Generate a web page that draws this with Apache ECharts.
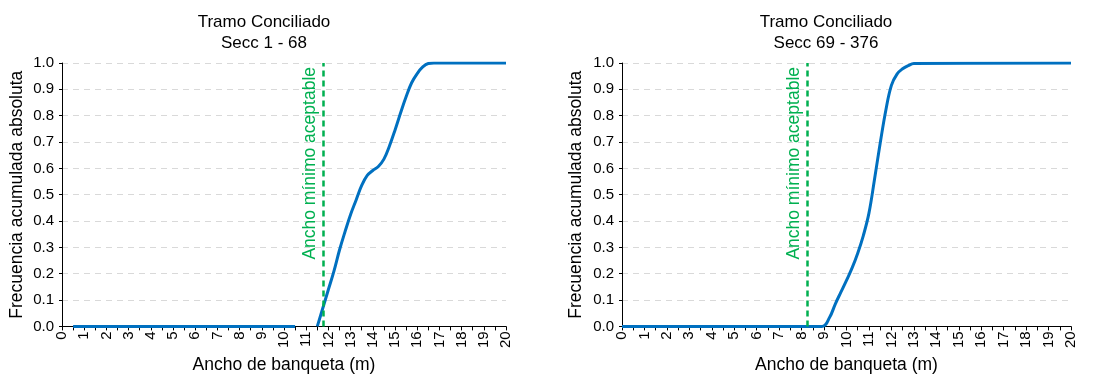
<!DOCTYPE html>
<html>
<head>
<meta charset="utf-8">
<script src="https://cdn.jsdelivr.net/npm/echarts@6/dist/echarts.min.js"></script>
<style>html,body{margin:0;padding:0;background:#fff}#c{width:1094px;height:379px}</style>
</head>
<body>
<div id="c"></div>
<script>
// ---- data ----
const titles = ["Tramo Conciliado\nSecc 1 - 68", "Tramo Conciliado\nSecc 69 - 376"];
const xAxisTitle = "Ancho de banqueta (m)";
const yAxisTitle = "Frecuencia acumulada absoluta";
const limitLabel = "Ancho mínimo aceptable";

const leftWidth = [0.5, 10.5, 11, 11.5, 11.75, 12, 12.25, 12.5, 12.75, 13, 13.25, 13.5, 13.75, 14, 14.25, 14.5, 14.75, 15, 15.25, 15.5, 15.75, 16, 16.25, 16.5, 16.75, 20];
const leftFreq  = [0, 0, null, 0, 0.07, 0.14, 0.21, 0.29, 0.36, 0.425, 0.48, 0.535, 0.573, 0.592, 0.607, 0.635, 0.685, 0.745, 0.81, 0.872, 0.925, 0.96, 0.985, 0.998, 1.0, 1.0];
const leftLimit = 11.75;

const rightWidth = [0, 8.9, 9.25, 9.5, 9.75, 10, 10.25, 10.5, 10.75, 11, 11.25, 11.5, 11.75, 12, 12.25, 12.5, 12.75, 13, 20];
const rightFreq  = [0, 0, 0.035, 0.085, 0.13, 0.175, 0.222, 0.278, 0.345, 0.43, 0.56, 0.695, 0.82, 0.915, 0.958, 0.978, 0.99, 0.998, 1.0];
const rightLimit = 8.25;

// ---- chart ----
const FONT = "'Liberation Sans', Arial, sans-serif";
const BLUE = '#0070C0', GREEN = '#00B050', TXT = '#000';
const pairs = (xs, ys) => xs.map((x, i) => [x, ys[i]]);

function xAx(idx, gap) {
  return {
    type: 'value', gridIndex: idx, min: 0, max: 20, interval: 1,
    name: xAxisTitle, nameLocation: 'middle', nameGap: gap,
    nameTextStyle: { fontFamily: FONT, fontSize: 17.5, color: TXT },
    axisLine: { show: true, onZero: false, lineStyle: { color: '#000', width: 1 } },
    axisTick: { show: true, length: 4, lineStyle: { color: '#000' } },
    minorTick: { show: true, splitNumber: 2, length: 4, lineStyle: { color: '#000' } },
    axisLabel: { rotate: 90, margin: 5, fontFamily: FONT, fontSize: 15, color: TXT },
    splitLine: { show: false }
  };
}
function yAx(idx, gap) {
  return {
    type: 'value', gridIndex: idx, min: 0, max: 1, interval: 0.1,
    name: yAxisTitle, nameLocation: 'middle', nameGap: gap, nameRotate: 90,
    nameTextStyle: { fontFamily: FONT, fontSize: 17.5, color: TXT },
    axisLine: { show: true, lineStyle: { color: '#000', width: 1 } },
    axisTick: { show: true, length: 3, lineStyle: { color: '#000' } },
    axisLabel: { margin: 8, fontFamily: FONT, fontSize: 15, color: TXT,
      formatter: v => v.toFixed(1) },
    splitLine: { show: true, lineStyle: { color: '#d9d9d9', type: [6, 5], width: 1 } }
  };
}
function series(idx, xs, ys, limit) {
  return {
    type: 'line', xAxisIndex: idx, yAxisIndex: idx,
    data: pairs(xs, ys), smooth: 0.4, showSymbol: false, connectNulls: false,
    lineStyle: { color: BLUE, width: 3 }, itemStyle: { color: BLUE },
    markLine: {
      silent: true, symbol: 'none', animation: false,
      data: [{ xAxis: limit }],
      lineStyle: { color: GREEN, type: [6, 4], width: 2.5 },
      label: { show: true, formatter: limitLabel, position: 'insideEndTop',
        distance: 4, color: GREEN, fontFamily: FONT, fontSize: 17.5 }
    }
  };
}

const chart = echarts.init(document.getElementById('c'), null, { renderer: 'canvas' });
chart.setOption({
  animation: false,
  backgroundColor: '#fff',
  title: [
    { text: titles[0], left: 259, top: 7, textAlign: 'center',
      textStyle: { fontFamily: FONT, fontSize: 17, fontWeight: 'normal', color: TXT, lineHeight: 21 } },
    { text: titles[1], left: 821, top: 7, textAlign: 'center',
      textStyle: { fontFamily: FONT, fontSize: 17, fontWeight: 'normal', color: TXT, lineHeight: 21 } }
  ],
  grid: [
    { left: 62, top: 63, width: 444, height: 267 },
    { left: 622, top: 63, width: 449, height: 265 }
  ],
  xAxis: [xAx(0, 26), xAx(1, 28)],
  yAxis: [yAx(0, 36), yAx(1, 37)],
  series: [
    series(0, leftWidth, leftFreq, leftLimit),
    series(1, rightWidth, rightFreq, rightLimit)
  ]
});
</script>
</body>
</html>
